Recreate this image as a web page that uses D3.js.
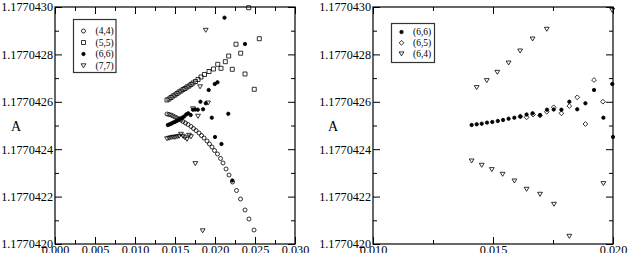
<!DOCTYPE html>
<html>
<head>
<meta charset="utf-8">
<script src="https://cdn.jsdelivr.net/npm/d3@7"></script>
<style>
body { margin: 0; background: #fff; }
svg { display: block; }
</style>
</head>
<body>
<svg id="chart" width="628" height="253"></svg>
<script>
// step size x and value A
const s44x = [0.01400,0.01425,0.01450,0.01475,0.01500,0.01525,0.01550,0.01575,0.01600,0.01631,0.01663,0.01700,0.01731,0.01763,0.01800,0.01831,0.01863,0.01900,0.01931,0.01963,0.01994,0.02031,0.02069,0.02100,0.02138,0.02175,0.02219,0.02269,0.02319,0.02375,0.02425,0.02488];
const s44a = [1.1770425485,1.1770425464,1.1770425443,1.1770425401,1.1770425359,1.1770425316,1.1770425274,1.1770425232,1.1770425169,1.1770425105,1.1770425042,1.1770424958,1.1770424873,1.1770424789,1.1770424684,1.1770424578,1.1770424473,1.1770424346,1.1770424219,1.1770424093,1.1770423945,1.1770423797,1.1770423608,1.1770423418,1.1770423165,1.1770422911,1.1770422616,1.1770422257,1.1770421899,1.1770421435,1.1770421055,1.1770420591];

const s55x = [0.01400,0.01425,0.01450,0.01475,0.01500,0.01525,0.01550,0.01575,0.01600,0.01625,0.01650,0.01675,0.01700,0.01725,0.01756,0.01788,0.01825,0.01869,0.01925,0.01981,0.02034,0.02075,0.02129,0.02171,0.02216,0.02263,0.02321,0.02375,0.02421,0.02491,0.02554];
const s55a = [1.1770426076,1.1770426118,1.1770426181,1.1770426245,1.1770426287,1.1770426350,1.1770426414,1.1770426456,1.1770426519,1.1770426561,1.1770426624,1.1770426667,1.1770426730,1.1770426793,1.1770426857,1.1770426941,1.1770427046,1.1770427152,1.1770427278,1.1770427384,1.1770427582,1.1770427414,1.1770427692,1.1770427932,1.1770427371,1.1770428430,1.1770428050,1.1770427173,1.1770429970,1.1770426527,1.1770428662];

const s66x = [0.01411,0.01432,0.01453,0.01475,0.01497,0.01520,0.01542,0.01565,0.01589,0.01614,0.01640,0.01665,0.01696,0.01725,0.01753,0.01785,0.01818,0.01851,0.01885,0.01921,0.01960,0.01997,0.02000,0.02031,0.02081,0.02119,0.02166,0.02216,0.02375];
const s66a = [1.1770425021,1.1770425051,1.1770425076,1.1770425122,1.1770425148,1.1770425190,1.1770425232,1.1770425287,1.1770425329,1.1770425380,1.1770425464,1.1770425515,1.1770425443,1.1770425667,1.1770425675,1.1770425667,1.1770426004,1.1770425684,1.1770425937,1.1770426498,1.1770425329,1.1770426751,1.1770424515,1.1770426823,1.1770424219,1.1770429549,1.1770425494,1.1770422679,1.1770428439];

const s77x = [0.01400,0.01425,0.01450,0.01475,0.01500,0.01525,0.01550,0.01575,0.01600,0.01625,0.01650,0.01675,0.01700,0.01725,0.01754,0.01788,0.01813,0.01846,0.01884,0.01913];
const s77a = [1.1770424451,1.1770424473,1.1770424494,1.1770424515,1.1770424515,1.1770424536,1.1770424557,1.1770424641,1.1770424557,1.1770424494,1.1770424430,1.1770424599,1.1770424536,1.1770425717,1.1770423405,1.1770425401,1.1770426646,1.1770420570,1.1770429030,1.1770425962];

const s65x = [0.01614,0.01640,0.01667,0.01696,0.01724,0.01753,0.01785,0.01818,0.01851,0.01885,0.01921,0.01958];
const s65a = [1.1770425380,1.1770425346,1.1770425464,1.1770425422,1.1770425582,1.1770425768,1.1770425515,1.1770425823,1.1770426190,1.1770425063,1.1770426920,1.1770426004];

const s64x = [0.01411,0.01432,0.01453,0.01474,0.01495,0.01518,0.01540,0.01565,0.01589,0.01613,0.01640,0.01665,0.01696,0.01724,0.01754,0.01818,0.01960,0.01997];
const s64a = [1.1770423515,1.1770426612,1.1770423333,1.1770426907,1.1770423152,1.1770427257,1.1770422954,1.1770427650,1.1770422671,1.1770428156,1.1770422321,1.1770428662,1.1770422110,1.1770429072,1.1770421688,1.1770420338,1.1770422561,1.1770429873];

const yTicks = [1.1770420,1.1770422,1.1770424,1.1770426,1.1770428,1.1770430];
const xTicksLeft = [0.000,0.005,0.010,0.015,0.020,0.025,0.030];
const xTicksRight = [0.010,0.015,0.020];

const FONT = "'Liberation Serif','Times New Roman',serif";

// marker shapes, centred on 0,0
const shapes = {
	circle:  {d: "M2,0A2,2 0 1,1 -2,0A2,2 0 1,1 2,0Z", fill: "none"},
	square:  {d: "M-2,-2H2V2H-2Z", fill: "none"},
	dot:     {d: "M1.7,0A1.7,1.7 0 1,1 -1.7,0A1.7,1.7 0 1,1 1.7,0Z", fill: "#000"},
	tri:     {d: "M-2.4,-1.7L2.4,-1.7L0,2.3Z", fill: "none"},
	diamond: {d: "M0,-2.4L2.4,0L0,2.4L-2.4,0Z", fill: "none"}
};

const svg = d3.select("#chart");

function midpoints(t) {
	return d3.pairs(t).map(p => (p[0] + p[1]) / 2);
}

function drawPanel(cfg) {
	let w = cfg.x1 - cfg.x0, h = 237;
	let g = svg.append("g").attr("transform", `translate(${cfg.x0},7)`);
	let x = d3.scaleLinear().domain(cfg.xDomain).range([0, w]);
	let y = d3.scaleLinear().domain([1.1770420, 1.1770430]).range([h, 0]);

	let xMinor = midpoints(cfg.xTicks), yMinor = midpoints(yTicks);

	let addAxis = (axis, tx, ty) => {
		let a = g.append("g").attr("transform", `translate(${tx},${ty})`).call(axis);
		a.select(".domain").remove();
		a.attr("font-family", FONT).attr("font-size", 12.2);
		a.selectAll("line").attr("stroke", "#000").attr("stroke-width", 1);
		return a;
	};

	addAxis(d3.axisBottom(x).tickValues(cfg.xTicks).tickSize(-7).tickPadding(1.5).tickFormat(d3.format(".3f")), 0, h);
	addAxis(d3.axisBottom(x).tickValues(xMinor).tickSize(-4).tickFormat(""), 0, h);
	addAxis(d3.axisTop(x).tickValues(cfg.xTicks).tickSize(-7).tickFormat(""), 0, 0);
	addAxis(d3.axisTop(x).tickValues(xMinor).tickSize(-4).tickFormat(""), 0, 0);
	addAxis(d3.axisLeft(y).tickValues(yTicks).tickSize(-7).tickPadding(2).tickFormat(d3.format(".7f")), 0, 0);
	addAxis(d3.axisLeft(y).tickValues(yMinor).tickSize(-4).tickFormat(""), 0, 0);
	addAxis(d3.axisRight(y).tickValues(yTicks).tickSize(-7).tickFormat(""), w, 0);
	addAxis(d3.axisRight(y).tickValues(yMinor).tickSize(-4).tickFormat(""), w, 0);

	g.append("rect")
	 .attr("width", w).attr("height", h)
	 .attr("fill", "none").attr("stroke", "#000").attr("stroke-width", 1.2);

	svg.append("text")
	   .attr("x", cfg.aX).attr("y", 131)
	   .attr("text-anchor", "middle")
	   .attr("font-family", FONT).attr("font-size", 14)
	   .text("A");

	cfg.series.forEach(s => {
		let pts = d3.zip(s.x, s.a).filter(p => p[0] >= cfg.xDomain[0] && p[0] <= cfg.xDomain[1] + 1e-6);
		g.append("g")
		 .selectAll("path")
		 .data(pts)
		 .enter()
		 .append("path")
		 .attr("transform", p => `translate(${x(p[0])},${y(p[1])})`)
		 .attr("d", shapes[s.shape].d)
		 .attr("fill", shapes[s.shape].fill)
		 .attr("stroke", "#000")
		 .attr("stroke-width", 0.8);
	});

	// legend
	let L = cfg.legend;
	let lg = svg.append("g").attr("transform", `translate(${L.x},${L.y})`);
	lg.append("rect")
	  .attr("width", L.w).attr("height", L.h)
	  .attr("fill", "#fff").attr("stroke", "#333").attr("stroke-width", 1.2);
	cfg.series.forEach((s, i) => {
		let ry = L.first + i * L.step;
		lg.append("path")
		  .attr("transform", `translate(${L.sym},${ry})`)
		  .attr("d", shapes[s.shape].d)
		  .attr("fill", shapes[s.shape].fill)
		  .attr("stroke", "#000").attr("stroke-width", 0.8);
		lg.append("text")
		  .attr("x", L.text).attr("y", ry + 3.3)
		  .attr("font-family", FONT).attr("font-size", 9.5)
		  .text(s.name);
	});
}

drawPanel({
	x0: 55, x1: 295, xDomain: [0, 0.030], xTicks: xTicksLeft, aX: 16,
	series: [
		{name: "(4,4)", x: s44x, a: s44a, shape: "circle"},
		{name: "(5,5)", x: s55x, a: s55a, shape: "square"},
		{name: "(6,6)", x: s66x, a: s66a, shape: "dot"},
		{name: "(7,7)", x: s77x, a: s77a, shape: "tri"}
	],
	legend: {x: 73.5, y: 19.5, w: 42.5, h: 53, sym: 10, text: 22, first: 11.5, step: 11.5}
});

drawPanel({
	x0: 373, x1: 613, xDomain: [0.010, 0.020], xTicks: xTicksRight, aX: 333,
	series: [
		{name: "(6,6)", x: s66x, a: s66a, shape: "dot"},
		{name: "(6,5)", x: s65x, a: s65a, shape: "diamond"},
		{name: "(6,4)", x: s64x, a: s64a, shape: "tri"}
	],
	legend: {x: 391.5, y: 23.5, w: 43, h: 39, sym: 10, text: 21.5, first: 8.5, step: 10.8}
});
</script>
</body>
</html>
